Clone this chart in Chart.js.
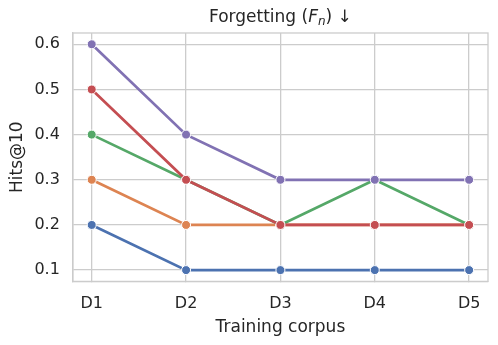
<!DOCTYPE html>
<html>
<head>
<meta charset="utf-8">
<script src="https://cdn.jsdelivr.net/npm/chart.js@4.4.0/dist/chart.umd.min.js"></script>
<style>
  html, body { margin: 0; padding: 0; background: #fff; }
  #wrap { width: 498px; height: 345px; }
</style>
</head>
<body>
<div id="wrap"><canvas id="forgetChart"></canvas></div>
<script>
const corpora = ['D1', 'D2', 'D3', 'D4', 'D5'];
const yTicks = [0.1, 0.2, 0.3, 0.4, 0.5, 0.6];

const blueVals = [0.2, 0.1, 0.1, 0.1, 0.1];
const orangeVals = [0.3, 0.2, 0.2, 0.2, 0.2];
const greenVals = [0.4, 0.3, 0.2, 0.3, 0.2];
const redVals = [0.5, 0.3, 0.2, 0.2, 0.2];
const purpleVals = [0.6, 0.4, 0.3, 0.3, 0.3];

const gridCol = '#cccccc';
const textCol = '#262626';
const font = 'DejaVu Sans';

function mkSet(vals, color) {
    return {
        data: vals.map((v, i) => ({ x: i, y: v })),
        borderColor: color,
        backgroundColor: color,
        borderWidth: 2.7,
        pointRadius: 4.5,
        pointHoverRadius: 4.5,
        pointBorderColor: '#ffffff',
        pointBorderWidth: 1,
        tension: 0
    };
}

// frame + title with italic F_n
const framePlugin = {
    id: 'frame',
    afterDraw: chart => {
        const ctx = chart.ctx;
        const a = chart.chartArea;
        ctx.save();
        ctx.strokeStyle = gridCol;
        ctx.lineWidth = 1.3;
        ctx.strokeRect(a.left, a.top, a.right - a.left, a.bottom - a.top);

        // title
        const parts = [
            { t: 'Forgetting (', f: '17px "' + font + '"', dy: 0 },
            { t: 'F', f: 'italic 17px "' + font + '"', dy: 0 },
            { t: 'n', f: 'italic 12px "' + font + '"', dy: 3 },
            { t: ') \u2193', f: '17px "' + font + '"', dy: 0 }
        ];
        let w = 0;
        parts.forEach(p => { ctx.font = p.f; w += ctx.measureText(p.t).width; });
        let x = (a.left + a.right) / 2 - w / 2;
        const y = 22;
        ctx.fillStyle = textCol;
        ctx.textBaseline = 'alphabetic';
        ctx.textAlign = 'left';
        parts.forEach(p => {
            ctx.font = p.f;
            ctx.fillText(p.t, x, y + p.dy);
            x += ctx.measureText(p.t).width;
        });
        ctx.restore();
    }
};

new Chart(document.getElementById('forgetChart'), {
    type: 'line',
    data: {
        datasets: [
            mkSet(blueVals, '#4C72B0'),
            mkSet(orangeVals, '#DD8452'),
            mkSet(greenVals, '#55A868'),
            mkSet(redVals, '#C44E52'),
            mkSet(purpleVals, '#8172B3')
        ].reverse()
    },
    options: {
        responsive: true,
        maintainAspectRatio: false,
        animation: false,
        layout: { padding: { top: 33, right: 10, left: 7, bottom: 7 } },
        plugins: {
            legend: { display: false },
            tooltip: { enabled: false },
            title: { display: false }
        },
        scales: {
            x: {
                type: 'linear',
                min: -0.2,
                max: 4.2,
                afterBuildTicks: axis => { axis.ticks = corpora.map((c, i) => ({ value: i })); },
                ticks: {
                    callback: v => corpora[v],
                    color: textCol,
                    font: { family: font, size: 16 },
                    padding: 13
                },
                grid: { color: gridCol, lineWidth: 1.3, tickLength: 0 },
                border: { color: gridCol, width: 1.3 },
                title: {
                    display: true,
                    text: 'Training corpus',
                    color: textCol,
                    font: { family: font, size: 17 },
                    padding: { top: -9, bottom: 0 }
                }
            },
            y: {
                min: 0.075,
                max: 0.625,
                afterBuildTicks: axis => { axis.ticks = yTicks.map(v => ({ value: v })); },
                ticks: {
                    callback: v => v.toFixed(1),
                    color: textCol,
                    font: { family: font, size: 16 },
                    padding: 13
                },
                grid: { color: gridCol, lineWidth: 1.3, tickLength: 0 },
                border: { color: gridCol, width: 1.3 },
                title: {
                    display: true,
                    text: 'Hits@10',
                    color: textCol,
                    font: { family: font, size: 17 },
                    padding: { top: 0, bottom: -6 }
                }
            }
        }
    },
    plugins: [framePlugin]
});
</script>
</body>
</html>
